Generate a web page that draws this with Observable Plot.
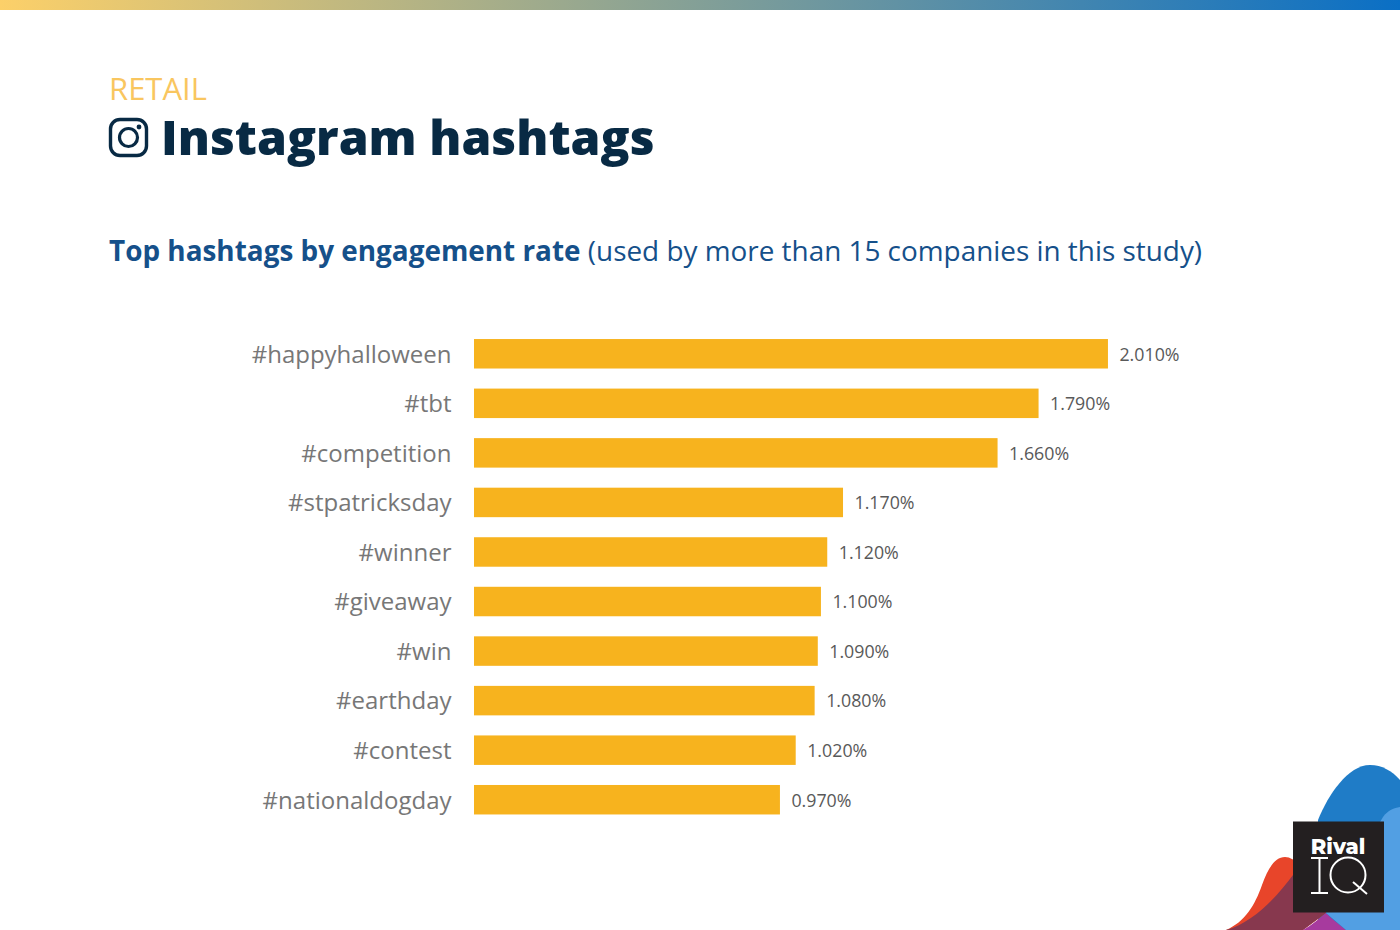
<!DOCTYPE html>
<html><head><meta charset="utf-8">
<script src="https://cdn.jsdelivr.net/npm/d3@7"></script>
<script src="https://cdn.jsdelivr.net/npm/@observablehq/plot@0.6"></script>
<style>
html,body{margin:0;padding:0;background:#fff;}
body{width:1400px;height:930px;position:relative;overflow:hidden;font-family:"Open Sans",sans-serif;}
#bar{position:absolute;left:0;top:0;width:1400px;height:10px;background:linear-gradient(90deg,#fcd069,#0a6fc5);}
.t{position:absolute;white-space:nowrap;line-height:1;}
#cat{left:109px;top:73px;font-size:31px;color:#f9c65f;}
#ttl{left:161px;top:113px;font-size:48.1px;font-weight:800;color:#082a44;}
#sub{left:109px;top:237px;font-size:27.9px;color:#15508a;}
#sub b{font-weight:700;}
#ig{position:absolute;left:108px;top:117px;}
#logo{position:absolute;left:1200px;top:750px;}
#chart{position:absolute;left:0;top:0;}
</style></head><body>
<div id="bar"></div>
<div class="t" id="cat">RETAIL</div>
<svg id="ig" width="42" height="42" viewBox="0 0 42 42">
<rect x="2.5" y="2.5" width="36" height="36" rx="9.5" fill="none" stroke="#082a44" stroke-width="3.4"/>
<circle cx="20.5" cy="20.5" r="9" fill="none" stroke="#082a44" stroke-width="3.2"/>
<circle cx="31" cy="10" r="2.4" fill="#082a44"/>
</svg>
<div class="t" id="ttl">Instagram hashtags</div>
<div class="t" id="sub"><b>Top hashtags by engagement rate</b> (used by more than 15 companies in this study)</div>
<div id="chart"></div>
<svg id="logo" width="200" height="180" viewBox="0 0 200 180">
<path d="M118 70C128 45 148 15 170 15C182 15 192 21 200 30L200 180L118 180Z" fill="#1f7cc7"/>
<path d="M26 180C45 172 55 155 62 135C68 118 75 107 85 107C95 107 105 120 115 135L126 163L103 180Z" fill="#e8452a"/>
<path d="M26 180C55 172 78 145 93 125L126 163L103 180Z" fill="#87384e"/>
<path d="M103 180C112 175 120 168 126 163C133 170 140 175 146 180Z" fill="#a73a9e"/>
<path d="M183 67C188 60 194 58 200 57L200 180L146 180L126 163Z" fill="#529fe3"/>
<rect x="93" y="71.500" width="91" height="91" fill="#231f20"/>
<text x="138" y="104" text-anchor="middle" font-family="Montserrat,'Open Sans',sans-serif" font-weight="800" font-size="21" fill="#fff">Rival</text>
<g fill="none" stroke="#fff" stroke-width="2">
<path d="M111 108H128M111 143H128M119.500 108V143"/>
<circle cx="148" cy="125" r="17.500"/>
<path d="M153 132L167 144"/>
</g>
</svg>
<script>
const tags = ["#happyhalloween","#tbt","#competition","#stpatricksday","#winner","#giveaway","#win","#earthday","#contest","#nationaldogday"];
const rates = [2.01,1.79,1.66,1.17,1.12,1.10,1.09,1.08,1.02,0.97];
const table = tags.map((tag,i)=>({tag,rate:rates[i]}));
const chart = Plot.plot({
  width:1400,height:930,
  marginLeft:474,marginRight:0,marginTop:329,marginBottom:105.5,
  style:{background:"transparent",fontFamily:"'Open Sans',sans-serif"},
  x:{domain:[0,926/315.4],axis:null},
  y:{domain:tags,paddingInner:0.405,paddingOuter:0.2025,align:0.5,round:false,label:null},
  marks:[
    Plot.barX(table,{x:"rate",y:"tag",fill:"#f7b31e"}),
    Plot.text(table,{x:"rate",y:"tag",text:d=>d.rate.toFixed(3)+"%",textAnchor:"start",dx:11,dy:0.6,fontSize:17.8,fill:"#595959"}),
    Plot.axisY({tickSize:0,tickPadding:23,fontSize:24,color:"#777",label:null,dy:0.6})
  ]
});
document.getElementById("chart").appendChild(chart);
</script>
</body></html>
